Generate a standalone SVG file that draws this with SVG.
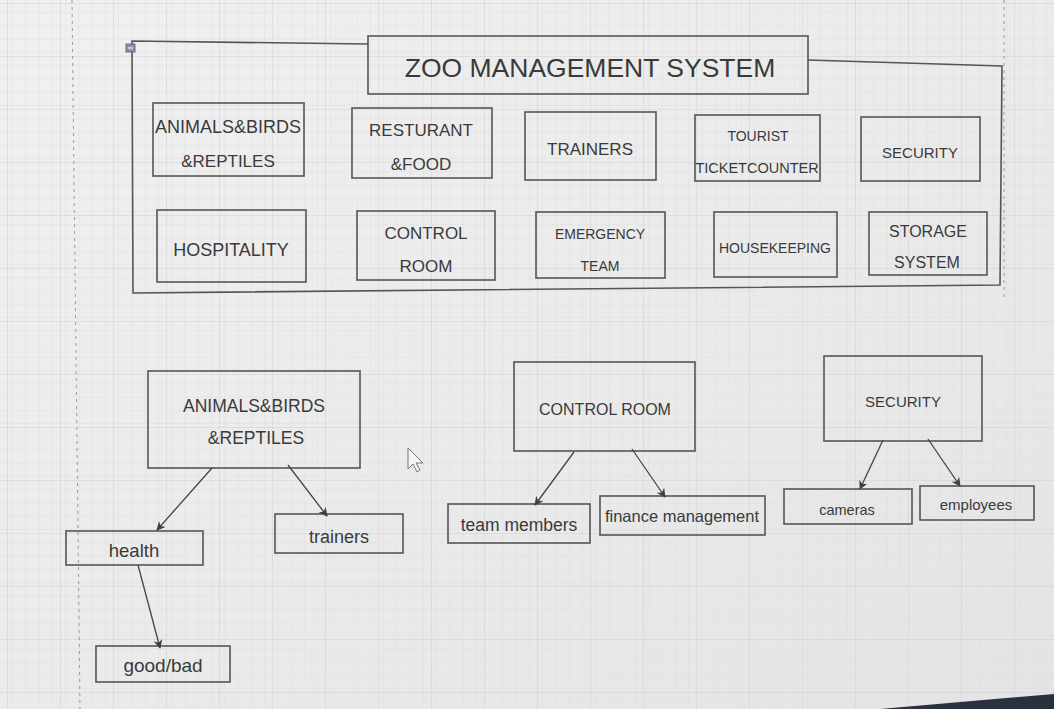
<svg xmlns="http://www.w3.org/2000/svg" width="1054" height="709" viewBox="0 0 1054 709">
  <defs>
    <pattern id="minor" width="13.25" height="13.25" patternUnits="userSpaceOnUse">
      <path d="M13.25 0V13.25H0" fill="none" stroke="#dcdcdc" stroke-width="0.8"/>
    </pattern>
    <pattern id="major" width="53" height="53" patternUnits="userSpaceOnUse" x="8" y="4">
      <path d="M53 0V53H0" fill="none" stroke="#cfcfcf" stroke-width="1"/>
    </pattern>
    <linearGradient id="bg" x1="0" y1="0" x2="1" y2="1">
      <stop offset="0" stop-color="#f0f0f0"/>
      <stop offset="0.5" stop-color="#ebebeb"/>
      <stop offset="1" stop-color="#e4e4e6"/>
    </linearGradient>
    <marker id="arr" viewBox="0 0 10 10" refX="9" refY="5" markerWidth="9" markerHeight="9" orient="auto" markerUnits="userSpaceOnUse">
      <path d="M0,0 L10,5 L0,10 L3,5 Z" fill="#3f3f3f"/>
    </marker>
    <style>
      .box { fill: none; stroke: #555; stroke-width: 1.6; }
      .t { font-family: "Liberation Sans", Arial, sans-serif; fill: #3a3a3a; text-anchor: middle; }
      .c { fill: none; stroke: #444; stroke-width: 1.3; }
    </style>
  </defs>

  <rect width="1054" height="709" fill="url(#bg)"/>
  <rect width="1054" height="709" fill="url(#minor)"/>
  <rect width="1054" height="709" fill="url(#major)"/>
  <line x1="72" y1="0" x2="80" y2="709" stroke="#9a9a9a" stroke-width="1" stroke-dasharray="3,4"/>
  <line x1="1004" y1="0" x2="1004" y2="300" stroke="#9a9a9a" stroke-width="1" stroke-dasharray="3,4"/>
  <path d="M880 709 L1054 694 L1054 709 Z" fill="#2a3040"/>

  <g id="container">
    <path class="box" d="M368 44 L132 41 L133 293 L1000 285 L1002 66 L808 60" />
    <rect x="126" y="44" width="9" height="8" fill="#8896aa" stroke="#556" stroke-width="0.8"/>
    <line x1="128" y1="48" x2="133" y2="48" stroke="#fff" stroke-width="1"/>
  </g>

  <g id="title">
    <rect class="box" x="368" y="36" width="440" height="58"/>
    <text class="t" x="590" y="77" font-size="26.5">ZOO MANAGEMENT SYSTEM</text>
  </g>

  <g id="n-animals-top">
    <rect class="box" x="153" y="103" width="151" height="73"/>
    <text class="t" x="228" y="133" font-size="18">ANIMALS&amp;BIRDS</text>
    <text class="t" x="228" y="167" font-size="17">&amp;REPTILES</text>
  </g>
  <g id="n-resturant">
    <rect class="box" x="352" y="108" width="140" height="70"/>
    <text class="t" x="421" y="136" font-size="17">RESTURANT</text>
    <text class="t" x="421" y="170" font-size="17">&amp;FOOD</text>
  </g>
  <g id="n-trainers-top">
    <rect class="box" x="525" y="112" width="131" height="68"/>
    <text class="t" x="590" y="155" font-size="17">TRAINERS</text>
  </g>
  <g id="n-tourist">
    <rect class="box" x="695" y="115" width="125" height="66"/>
    <text class="t" x="758" y="141" font-size="14">TOURIST</text>
    <text class="t" x="757" y="173" font-size="14.5">TICKETCOUNTER</text>
  </g>
  <g id="n-security-top">
    <rect class="box" x="861" y="117" width="119" height="64"/>
    <text class="t" x="920" y="158" font-size="15">SECURITY</text>
  </g>

  <g id="n-hospitality">
    <rect class="box" x="157" y="210" width="149" height="72"/>
    <text class="t" x="231" y="256" font-size="18">HOSPITALITY</text>
  </g>
  <g id="n-control-top">
    <rect class="box" x="357" y="211" width="138" height="69"/>
    <text class="t" x="426" y="239" font-size="17">CONTROL</text>
    <text class="t" x="426" y="272" font-size="17">ROOM</text>
  </g>
  <g id="n-emergency">
    <rect class="box" x="536" y="212" width="129" height="66"/>
    <text class="t" x="600" y="239" font-size="14">EMERGENCY</text>
    <text class="t" x="600" y="271" font-size="14">TEAM</text>
  </g>
  <g id="n-housekeeping">
    <rect class="box" x="714" y="212" width="123" height="65"/>
    <text class="t" x="775" y="253" font-size="14">HOUSEKEEPING</text>
  </g>
  <g id="n-storage">
    <rect class="box" x="869" y="212" width="118" height="63"/>
    <text class="t" x="928" y="237" font-size="16">STORAGE</text>
    <text class="t" x="927" y="268" font-size="16">SYSTEM</text>
  </g>

  <g id="n-animals">
    <rect class="box" x="148" y="371" width="212" height="97"/>
    <text class="t" x="254" y="412" font-size="17.5">ANIMALS&amp;BIRDS</text>
    <text class="t" x="256" y="444" font-size="17.5">&amp;REPTILES</text>
  </g>
  <g id="n-health">
    <rect class="box" x="66" y="531" width="137" height="34"/>
    <text class="t" x="134" y="557" font-size="18.5">health</text>
  </g>
  <g id="n-trainers">
    <rect class="box" x="275" y="514" width="128" height="39"/>
    <text class="t" x="339" y="543" font-size="18">trainers</text>
  </g>
  <g id="n-goodbad">
    <rect class="box" x="96" y="646" width="134" height="36"/>
    <text class="t" x="163" y="672" font-size="19">good/bad</text>
  </g>

  <g id="n-control">
    <rect class="box" x="514" y="362" width="181" height="89"/>
    <text class="t" x="605" y="415" font-size="16">CONTROL ROOM</text>
  </g>
  <g id="n-team">
    <rect class="box" x="448" y="504" width="142" height="39"/>
    <text class="t" x="519" y="531" font-size="17.5">team members</text>
  </g>
  <g id="n-finance">
    <rect class="box" x="600" y="496" width="165" height="39"/>
    <text class="t" x="682" y="522" font-size="16.5">finance management</text>
  </g>

  <g id="n-security">
    <rect class="box" x="824" y="356" width="158" height="85"/>
    <text class="t" x="903" y="407" font-size="15">SECURITY</text>
  </g>
  <g id="n-cameras">
    <rect class="box" x="784" y="489" width="128" height="35"/>
    <text class="t" x="847" y="515" font-size="14.5">cameras</text>
  </g>
  <g id="n-employees">
    <rect class="box" x="920" y="486" width="114" height="34"/>
    <text class="t" x="976" y="510" font-size="15">employees</text>
  </g>

  <g id="connectors">
    <line class="c" x1="212" y1="468" x2="157" y2="530" marker-end="url(#arr)"/>
    <line class="c" x1="288" y1="465" x2="327" y2="516" marker-end="url(#arr)"/>
    <line class="c" x1="138" y1="565" x2="160" y2="648" marker-end="url(#arr)"/>
    <line class="c" x1="574" y1="452" x2="535" y2="505" marker-end="url(#arr)"/>
    <line class="c" x1="632" y1="449" x2="665" y2="497" marker-end="url(#arr)"/>
    <line class="c" x1="883" y1="440" x2="860" y2="489" marker-end="url(#arr)"/>
    <line class="c" x1="928" y1="439" x2="960" y2="486" marker-end="url(#arr)"/>
  </g>

  <path d="M408 448 L408 469 L413 464 L417 472 L420 470 L416 463 L423 463 Z" fill="#f4f4f4" stroke="#777" stroke-width="1"/>
</svg>
